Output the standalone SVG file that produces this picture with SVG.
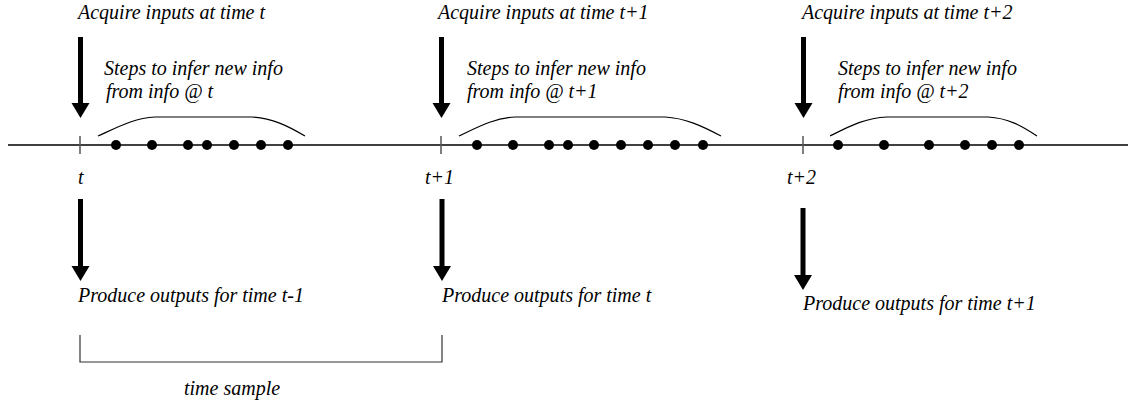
<svg xmlns="http://www.w3.org/2000/svg" width="1128" height="405" viewBox="0 0 1128 405">
<defs>
<style>
.lbl{font-family:"Liberation Serif","Times New Roman",serif;font-style:italic;font-size:20px;fill:#000}
.shaft{stroke:#000;stroke-width:5;fill:none}
.head{fill:#000}
.arc{stroke:#000;stroke-width:1.2;fill:none}
.tick{stroke:#555;stroke-width:1.5}
.axis{stroke:#000;stroke-width:1.5}
.dot{fill:#000}
.brk{stroke:#333;stroke-width:1.2;fill:none}
</style>
</defs>
<rect width="1128" height="405" fill="#fff"/>
<g id="timeline">
<line class="axis" x1="8" y1="145" x2="1128" y2="145"/>
<line class="tick" x1="80" y1="136" x2="80" y2="154"/>
<line class="tick" x1="441" y1="136" x2="441" y2="154"/>
<line class="tick" x1="803" y1="136" x2="803" y2="154"/>
</g>
<g id="connectors">
<line class="shaft" x1="80.5" y1="37" x2="80.5" y2="104"/><polygon class="head" points="71.5,103 89.5,103 80.5,118"/>
<line class="shaft" x1="441.5" y1="37" x2="441.5" y2="104"/><polygon class="head" points="432.5,103 450.5,103 441.5,118"/>
<line class="shaft" x1="803.5" y1="37" x2="803.5" y2="104"/><polygon class="head" points="794.5,103 812.5,103 803.5,118"/>
<line class="shaft" x1="80.5" y1="199" x2="80.5" y2="267"/><polygon class="head" points="71.5,266 89.5,266 80.5,281"/>
<line class="shaft" x1="442" y1="199" x2="442" y2="267"/><polygon class="head" points="433,266 451,266 442,281"/>
<line class="shaft" x1="803" y1="208" x2="803" y2="276"/><polygon class="head" points="794,275 812,275 803,290"/>
</g>
<g id="step-group-t">
<path class="arc" d="M98,136 C120,126 135,118 155,117 L252,117 C272,118 288,126 305,136"/>
<circle class="dot" cx="116" cy="145" r="5"/><circle class="dot" cx="152" cy="145" r="5"/><circle class="dot" cx="188" cy="145" r="5"/><circle class="dot" cx="207" cy="145" r="5"/><circle class="dot" cx="234" cy="145" r="5"/><circle class="dot" cx="261" cy="145" r="5"/><circle class="dot" cx="288" cy="145" r="5"/>
</g>
<g id="step-group-t1">
<path class="arc" d="M459,136 C480,126 495,118 515,117 L665,117 C685,118 702,126 721,136"/>
<circle class="dot" cx="477" cy="145" r="5"/><circle class="dot" cx="513" cy="145" r="5"/><circle class="dot" cx="549" cy="145" r="5"/><circle class="dot" cx="568" cy="145" r="5"/><circle class="dot" cx="594" cy="145" r="5"/><circle class="dot" cx="621" cy="145" r="5"/><circle class="dot" cx="648" cy="145" r="5"/><circle class="dot" cx="675" cy="145" r="5"/><circle class="dot" cx="703" cy="145" r="5"/>
</g>
<g id="step-group-t2">
<path class="arc" d="M830,136 C850,126 865,118 887,117 L988,117 C1008,118 1022,126 1037,136"/>
<circle class="dot" cx="838" cy="145" r="5"/><circle class="dot" cx="884" cy="145" r="5"/><circle class="dot" cx="929" cy="145" r="5"/><circle class="dot" cx="965" cy="145" r="5"/><circle class="dot" cx="992" cy="145" r="5"/><circle class="dot" cx="1019" cy="145" r="5"/>
</g>
<g id="labels-t">
<text class="lbl" x="78" y="19">Acquire inputs at time t</text>
<text class="lbl" x="104" y="75">Steps to infer new info</text>
<text class="lbl" x="106" y="98">from info @ t</text>
<text class="lbl" x="78" y="184">t</text>
<text class="lbl" x="78" y="302">Produce outputs for time t-1</text>
</g>
<g id="labels-t1">
<text class="lbl" x="438" y="19">Acquire inputs at time t+1</text>
<text class="lbl" x="467" y="75">Steps to infer new info</text>
<text class="lbl" x="467" y="98">from info @ t+1</text>
<text class="lbl" x="425" y="184">t+1</text>
<text class="lbl" x="442" y="302">Produce outputs for time t</text>
</g>
<g id="labels-t2">
<text class="lbl" x="802" y="19">Acquire inputs at time t+2</text>
<text class="lbl" x="838" y="75">Steps to infer new info</text>
<text class="lbl" x="838" y="98">from info @ t+2</text>
<text class="lbl" x="787" y="184">t+2</text>
<text class="lbl" x="803" y="310">Produce outputs for time t+1</text>
</g>
<g id="time-sample">
<path class="brk" d="M80,335 L80,362 L442,362 L442,335"/>
<text class="lbl" x="184" y="395">time sample</text>
</g>
</svg>
